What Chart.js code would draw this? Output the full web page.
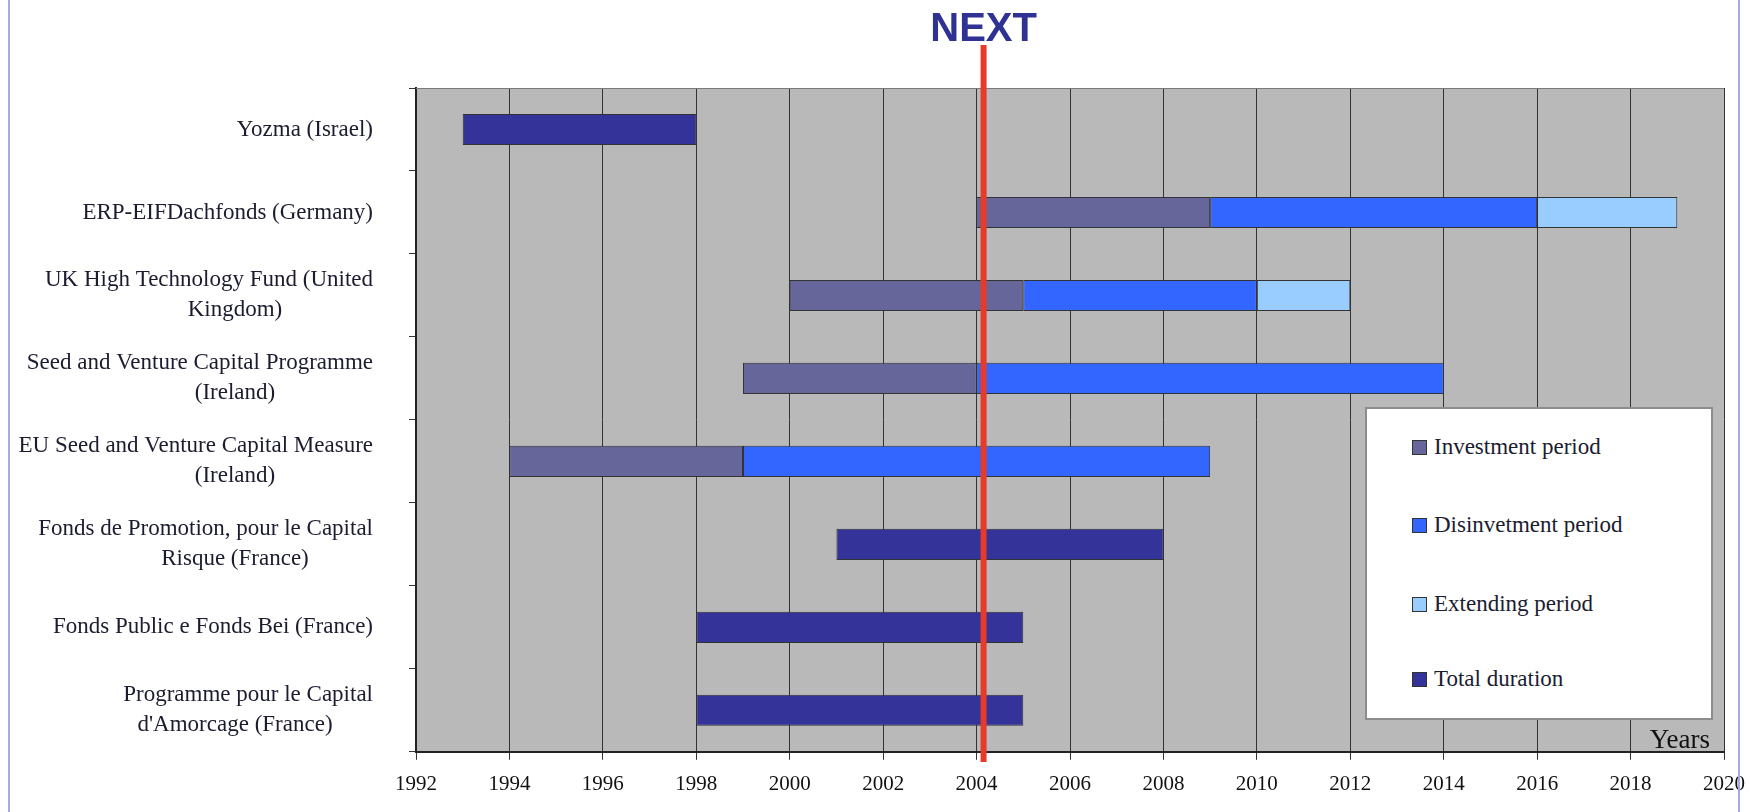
<!DOCTYPE html>
<html>
<head>
<meta charset="utf-8">
<script src="https://cdn.jsdelivr.net/npm/chart.js@4.4.1/dist/chart.umd.min.js"></script>
<style>
  html, body { margin: 0; padding: 0; background: #fff; }
  #wrap { position: relative; width: 1750px; height: 812px; overflow: hidden; }
  #wrap .edge { position: absolute; top: 0; bottom: 0; width: 2px; background: #a9a9e2; }
  #legend {
    position: absolute; left: 1365px; top: 407px; width: 344px; height: 309px;
    background: #fff; border: 2px solid #8c8c8c;
  }
  #legend .item {
    position: absolute; left: 45px; height: 26px; display: flex; align-items: center;
    font: 23px "Liberation Serif", serif; color: #1c1c30; white-space: nowrap;
  }
  #legend .sw { width: 13px; height: 13px; border: 1px solid #333; margin-right: 7px; }
</style>
</head>
<body>
<div id="wrap">
  <div class="edge" style="left:8px"></div>
  <div class="edge" style="left:1738px"></div>
  <canvas id="chart" width="1750" height="812"></canvas>
  <div id="legend"></div>
</div>
<script>
// categories, top to bottom
const programmes = [
  ["Yozma (Israel)"],
  ["ERP-EIFDachfonds (Germany)"],
  ["UK High Technology Fund (United", "Kingdom)"],
  ["Seed and Venture Capital Programme", "(Ireland)"],
  ["EU Seed and Venture Capital Measure", "(Ireland)"],
  ["Fonds de Promotion, pour le Capital", "Risque (France)"],
  ["Fonds Public e Fonds Bei (France)"],
  ["Programme pour le Capital", "d'Amorcage (France)"]
];

// [start year, end year] for each programme, null where not used
const investment    = [null, [2004, 2009], [2000, 2005], [1999, 2004], [1994, 1999], null, null, null];
const disinvestment = [null, [2009, 2016], [2005, 2010], [2004, 2014], [1999, 2009], null, null, null];
const extending     = [null, [2016, 2019], [2010, 2012], null, null, null, null, null];
const totalDuration = [[1993, 1998], null, null, null, null, [2001, 2008], [1998, 2005], [1998, 2005]];

const yearMin = 1992;
const yearMax = 2020;
const nextYear = 2004.15;

const serif = '"Liberation Serif", serif';

function barSet(label, data, color) {
  return {
    label: label,
    data: data,
    backgroundColor: color,
    borderColor: "#333",
    borderWidth: 1,
    borderSkipped: false,
    grouped: false,
    barPercentage: 1,
    categoryPercentage: 0.375
  };
}

const decor = {
  id: "decor",
  beforeDraw(chart) {
    const { ctx, chartArea: a } = chart;
    ctx.save();
    ctx.fillStyle = "#b8b9b8";
    ctx.fillRect(a.left, a.top, a.right - a.left, a.bottom - a.top);
    ctx.restore();
  },
  afterDraw(chart) {
    const { ctx, chartArea: a } = chart;
    const x = chart.scales.x, y = chart.scales.y;
    ctx.save();

    // top frame
    ctx.strokeStyle = "#7a7a7a";
    ctx.lineWidth = 1;
    ctx.beginPath();
    ctx.moveTo(a.left, a.top + 0.5);
    ctx.lineTo(a.right, a.top + 0.5);
    ctx.stroke();

    // category labels: first line right aligned, second line centred
    ctx.fillStyle = "#1c1c30";
    ctx.font = "23px " + serif;
    ctx.textBaseline = "middle";
    programmes.forEach((lines, i) => {
      const cy = y.getPixelForValue(i);
      ctx.textAlign = "right";
      if (lines.length === 1) {
        ctx.fillText(lines[0], 373, cy);
      } else {
        ctx.fillText(lines[0], 373, cy - 15);
        ctx.textAlign = "center";
        ctx.fillText(lines[1], 235, cy + 15);
      }
    });

    // "Years" in the corner
    ctx.font = "27px " + serif;
    ctx.textAlign = "right";
    ctx.textBaseline = "alphabetic";
    ctx.fillStyle = "#111";
    ctx.fillText("Years", a.right - 14, a.bottom - 4);

    // NEXT marker
    const nx = x.getPixelForValue(nextYear);
    ctx.strokeStyle = "#e63a2a";
    ctx.lineWidth = 6;
    ctx.beginPath();
    ctx.moveTo(nx, 45);
    ctx.lineTo(nx, 762);
    ctx.stroke();

    ctx.font = 'bold 40px "Liberation Sans", Arial, sans-serif';
    ctx.textAlign = "center";
    ctx.fillStyle = "#2f3193";
    ctx.fillText("NEXT", nx, 41);
    ctx.restore();
  }
};

const chart = new Chart(document.getElementById("chart"), {
  type: "bar",
  data: {
    labels: programmes,
    datasets: [
      barSet("Investment period", investment, "#66669b"),
      barSet("Disinvetment period", disinvestment, "#3366ff"),
      barSet("Extending period", extending, "#99ccff"),
      barSet("Total duration", totalDuration, "#333399")
    ]
  },
  options: {
    indexAxis: "y",
    responsive: false,
    animation: false,
    layout: { padding: { left: 0, right: 26, top: 88, bottom: 3 } },
    plugins: { legend: { display: false }, tooltip: { enabled: false } },
    scales: {
      x: {
        min: yearMin,
        max: yearMax,
        ticks: {
          stepSize: 2,
          padding: 12,
          color: "#111",
          font: { family: serif, size: 21 },
          maxRotation: 0,
          callback: v => String(v)
        },
        grid: { color: "#333", lineWidth: 1, tickLength: 8 },
        border: { color: "#222", width: 2 },
        // the end labels may hang past the plot, as in the original
        afterFit(scale) { scale.paddingLeft = 0; scale.paddingRight = 0; }
      },
      y: {
        offset: true,
        ticks: { display: false },
        grid: { drawOnChartArea: false, offset: true, color: "#333", tickLength: 7 },
        border: { color: "#222", width: 2 },
        afterFit(scale) { scale.width = 416; }
      }
    }
  },
  plugins: [decor]
});

// legend box built from the datasets
const legend = document.getElementById("legend");
const itemTops = [25, 103, 182, 257];
chart.data.datasets.forEach((ds, i) => {
  const item = document.createElement("div");
  item.className = "item";
  item.style.top = itemTops[i] + "px";
  item.innerHTML = `<span class="sw" style="background:${ds.backgroundColor}"></span>${ds.label}`;
  legend.appendChild(item);
});
</script>
</body>
</html>
